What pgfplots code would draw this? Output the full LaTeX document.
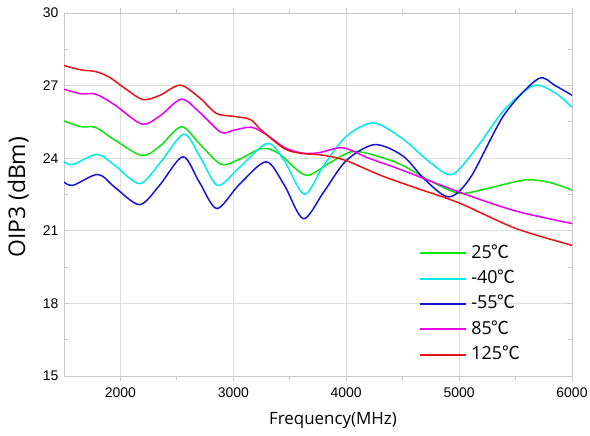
\documentclass[border=0pt]{standalone}
\usepackage{fontspec}
\usepackage{pgfplots}
\pgfplotsset{compat=1.18}
\setmainfont{Open Sans}
\newfontfamily\arial{Liberation Sans}
\newfontfamily\cjk{Noto Sans CJK SC}
\definecolor{lineGreen}{RGB}{10,230,10}
\definecolor{lineCyan}{RGB}{0,235,235}
\definecolor{lineBlue}{RGB}{20,20,210}
\definecolor{lineMagenta}{RGB}{235,0,235}
\definecolor{lineRed}{RGB}{235,20,20}
\definecolor{gridc}{RGB}{222,222,222}
\definecolor{axc}{RGB}{200,200,200}
\begin{document}
\begin{tikzpicture}
\begin{axis}[
  name=ax,
  scale only axis,
  width=508bp, height=363bp,
  xmin=1500, xmax=6000, ymin=15, ymax=30,
  xtick={2000,3000,4000,5000,6000},
  ytick={15,18,21,24,27,30},
  minor xtick={2500,3500,4500,5500},
  minor ytick={16.5,19.5,22.5,25.5,28.5},
  major tick length=5bp,
  minor tick length=4bp,
  xtick align=outside, ytick align=inside,
  tick style={axc, line width=0.8bp},
  grid=major,
  major grid style={gridc, line width=0.8bp},
  axis line style={axc, line width=0.8bp},
  /pgf/number format/assume math mode=true,
  /pgf/number format/1000 sep={},
  ticklabel style={font=\arial\fontsize{14}{14}\selectfont, text=black},
  xticklabel style={yshift=-3bp},
  yticklabel style={xshift=-2bp},
  xlabel={Frequency(MHz)},
  ylabel={OIP3 (dBm)},
  xlabel style={font=\fontsize{17}{17}\selectfont, at={(axis description cs:0.5295,-0.1236)}, anchor=center},
  ylabel style={font=\fontsize{23}{23}\selectfont, at={(axis description cs:-0.090,0.492)}, anchor=center, rotate=0},
  legend cell align=left,
  legend style={draw=none, fill=none, inner sep=0pt, outer sep=0pt,
    at={(axis cs:4657,20.45)}, anchor=north west,
    font=\fontsize{18}{18}\selectfont, row sep=7.4bp,
    nodes={inner sep=0pt, text height=14bp, text depth=4bp},
    /tikz/every odd column/.append style={column sep=5bp}},
  legend image code/.code={\fill[#1, draw=none] (0bp,-1bp) rectangle (46bp,1bp);},
]
\addplot[color=lineGreen, line width=1.5bp, smooth] coordinates {
(1500,25.54) (1650,25.3) (1780,25.27) (1950,24.75) (2190,24.11) (2350,24.5)
(2540,25.3) (2700,24.6) (2890,23.75) (3050,23.95) (3250,24.4) (3400,24.2)
(3640,23.3) (3850,23.8) (4060,24.28) (4300,24.05) (4500,23.7) (4750,23.05)
(5000,22.55) (5250,22.75) (5580,23.1) (5800,23.0) (6000,22.68)};
\addlegendentry{25{\cjk ℃}}
\addplot[color=lineCyan, line width=1.5bp, smooth] coordinates {
(1500,23.85) (1580,23.74) (1795,24.16) (1950,23.7) (2170,22.95) (2350,23.8)
(2560,24.99) (2700,24.1) (2860,22.88) (3050,23.6) (3300,24.61) (3450,23.9)
(3630,22.51) (3800,23.7) (4000,24.9) (4240,25.46) (4500,24.8) (4750,23.8)
(4940,23.33) (5150,24.4) (5400,26.0) (5660,27.0) (5850,26.7) (6000,26.1)};
\addlegendentry{-40{\cjk ℃}}
\addplot[color=lineBlue, line width=1.5bp, smooth] coordinates {
(1500,23.02) (1580,22.88) (1800,23.33) (1950,22.8) (2170,22.08) (2350,22.9)
(2553,24.06) (2700,23.0) (2854,21.92) (3050,22.9) (3290,23.85) (3450,22.9)
(3620,21.5) (3800,22.6) (4000,23.9) (4250,24.56) (4500,24.1) (4700,23.1)
(4910,22.4) (5100,23.2) (5400,25.8) (5700,27.28) (5850,27.0) (6000,26.6)};
\addlegendentry{-55{\cjk ℃}}
\addplot[color=lineMagenta, line width=1.5bp, smooth] coordinates {
(1500,26.85) (1650,26.66) (1780,26.65) (1950,26.2) (2190,25.41) (2350,25.75)
(2540,26.44) (2700,25.9) (2890,25.07) (3000,25.15) (3160,25.28) (3300,24.95)
(3450,24.45) (3600,24.22) (3750,24.22) (3970,24.43) (4200,24.0) (4500,23.5)
(5000,22.6) (5500,21.82) (6000,21.3)};
\addlegendentry{85{\cjk ℃}}
\addplot[color=lineRed, line width=1.5bp, smooth] coordinates {
(1500,27.83) (1650,27.65) (1780,27.58) (1900,27.35) (2050,26.85) (2200,26.42)
(2350,26.6) (2530,27.02) (2700,26.5) (2850,25.85) (3000,25.73) (3150,25.6)
(3250,25.15) (3450,24.4) (3600,24.2) (3800,24.12) (4000,23.9) (4300,23.3)
(4600,22.8) (5000,22.15) (5500,21.1) (6000,20.4)};
\addlegendentry{125{\cjk ℃}}
\end{axis}
\pgfresetboundingbox
\path ([xshift=-64bp,yshift=-60bp]ax.south west) rectangle ([xshift=18bp,yshift=13bp]ax.north east);
\end{tikzpicture}
\end{document}
